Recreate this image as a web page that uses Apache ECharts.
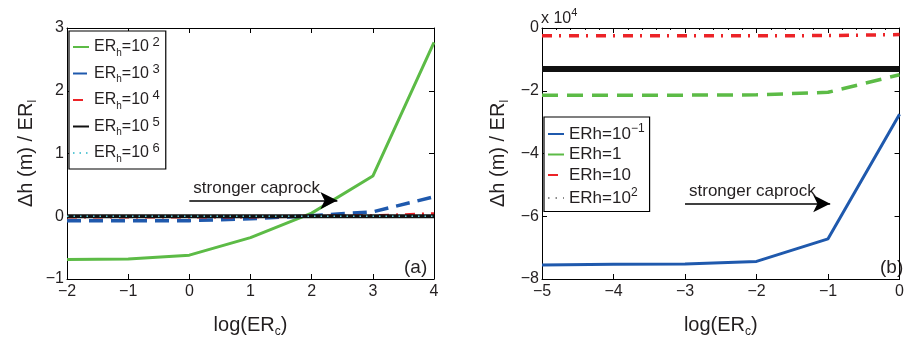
<!DOCTYPE html>
<html>
<head>
<meta charset="utf-8">
<script src="https://cdn.jsdelivr.net/npm/echarts@6/dist/echarts.min.js"></script>
<style>
	html, body { margin: 0; background: #fff; }
	#chart { width: 907px; height: 343px; }
</style>
</head>
<body>
<div id="chart"></div>
<script>
// panel (a): dh/ER_l against log(ER_c), one curve per ER_h
const logERcA = [-2, -1, 0, 1, 2, 3, 4]
const expA = ['2', '3', '4', '5', '6']
const dhA_e2 = [-0.69, -0.68, -0.62, -0.34, 0.05, 0.64, 2.77]
const dhA_e3 = [-0.07, -0.07, -0.07, -0.04, 0.01, 0.07, 0.31]
const dhA_e4 = [-0.01, -0.01, -0.01, -0.01, 0.0, 0.01, 0.04]
const dhA_e5 = [0, 0, 0, 0, 0, 0, 0]
const dhA_e6 = [0, 0, 0, 0, 0, 0, 0]

// panel (b): values in units of 1e4
const logERcB = [-5, -4, -3, -2, -1, 0]
const namesB = ['ERh=10^-1', 'ERh=1', 'ERh=10', 'ERh=10^2']
const dhB_em1 = [-7.55, -7.53, -7.52, -7.44, -6.72, -2.75]
const dhB_1 = [-2.14, -2.14, -2.14, -2.13, -2.05, -1.49]
const dhB_10 = [-0.25, -0.25, -0.25, -0.25, -0.24, -0.21]
const dhB_e2 = [-1.31, -1.31, -1.31, -1.31, -1.31, -1.31]

const GREEN = '#5cbb46'
const BLUE = '#1f59ad'
const RED = '#ec2327'
const CYAN = '#5ec8d6'
const TXT = '#231f20'
const FONT = 'Liberation Sans, Arial, sans-serif'

const zip = (xs, ys) => xs.map((x, i) => [x, ys[i]])
const minus = (v) => String(v).replace('-', '\u2212')

const chart = echarts.init(document.getElementById('chart'))

const line = { onZero: false, lineStyle: { color: '#000', width: 1 } }
const tick = { inside: true, length: 5, lineStyle: { color: '#000' } }

const baseX = (grid, min, max) => ({
	type: 'value', gridIndex: grid, min, max, interval: 1,
	axisLine: line, axisTick: tick,
	splitLine: { show: false },
	axisLabel: { color: TXT, fontSize: 16, fontFamily: FONT, margin: 5, formatter: minus },
})
const topX = (grid, min, max, minor) => ({
	type: 'value', gridIndex: grid, min, max, interval: 1, position: 'top',
	axisLine: line, axisTick: tick,
	minorTick: { show: minor, splitNumber: 5, length: 2, lineStyle: { color: '#000' } },
	splitLine: { show: false }, axisLabel: { show: false },
})
const baseY = (grid, min, max, interval, gap) => ({
	type: 'value', gridIndex: grid, min, max, interval,
	axisLine: { ...line, show: true }, axisTick: { ...tick, show: true },
	splitLine: { show: false },
	axisLabel: { color: TXT, fontSize: 16, fontFamily: FONT, margin: 3, formatter: minus },
	name: '{t|\u0394h (m) / ER}{s|l}',
	nameLocation: 'middle', nameRotate: 90, nameGap: gap,
	nameTextStyle: {
		rich: {
			t: { fontSize: 20, fontFamily: FONT, color: TXT, lineHeight: 26, verticalAlign: 'middle' },
			s: { fontSize: 12, fontFamily: FONT, color: TXT, lineHeight: 26, verticalAlign: 'bottom' },
		},
	},
})
const rightY = (grid, min, max, interval) => ({
	type: 'value', gridIndex: grid, min, max, interval, position: 'right',
	axisLine: { ...line, show: true }, axisTick: { ...tick, show: true },
	splitLine: { show: false }, axisLabel: { show: false },
})

const xName = {
	name: '{t|log(ER}{s|c}{t|)}',
	nameLocation: 'middle', nameGap: 33,
	nameTextStyle: {
		rich: {
			t: { fontSize: 20, fontFamily: FONT, color: TXT, lineHeight: 26 },
			s: { fontSize: 12, fontFamily: FONT, color: TXT, lineHeight: 26, verticalAlign: 'bottom' },
		},
	},
}

const legendRich = {
	t: { fontSize: 16, fontFamily: FONT, color: TXT, lineHeight: 22 },
	sub: { fontSize: 10, fontFamily: FONT, color: TXT, lineHeight: 22, verticalAlign: 'bottom' },
	sup: { fontSize: 13, fontFamily: FONT, color: TXT, lineHeight: 22, verticalAlign: 'top' },
	u: { fontSize: 17, fontFamily: FONT, color: TXT, lineHeight: 22 },
	usup: { fontSize: 12, fontFamily: FONT, color: TXT, lineHeight: 20, verticalAlign: 'top' },
}

const arrow = (x0, x1, y) => ({
	silent: true,
	symbol: ['none', 'arrow'],
	symbolSize: [13, 17],
	lineStyle: { color: '#000', width: 1.5, type: 'solid' },
	label: {
		show: true, position: 'insideStartTop', distance: 4,
		formatter: 'stronger caprock', color: TXT, fontSize: 17, fontFamily: FONT,
	},
	data: [[{ coord: [x0, y] }, { coord: [x1, y] }]],
})

const seriesA = [
	{ name: 'ER_h=10^2', data: zip(logERcA, dhA_e2), lineStyle: { color: GREEN, width: 3 }, markLine: arrow(0, 2.42, 0.25) },
	{ name: 'ER_h=10^3', data: zip(logERcA, dhA_e3), lineStyle: { color: BLUE, width: 3.5, type: [14, 8] } },
	{ name: 'ER_h=10^4', data: zip(logERcA, dhA_e4), lineStyle: { color: RED, width: 3, type: [10, 7, 2, 7] } },
	{ name: 'ER_h=10^5', data: zip(logERcA, dhA_e5), lineStyle: { color: '#111', width: 4 } },
	{ name: 'ER_h=10^6', data: zip(logERcA, dhA_e6), lineStyle: { color: CYAN, width: 1.5, type: [1.5, 5] } },
].map((s) => ({ ...s, type: 'line', xAxisIndex: 0, yAxisIndex: 0, symbol: 'none', itemStyle: { color: s.lineStyle.color } }))

const seriesB = [
	{ name: namesB[0], data: zip(logERcB, dhB_em1), lineStyle: { color: BLUE, width: 3 }, markLine: arrow(-3, -0.97, -5.6) },
	{ name: namesB[1], data: zip(logERcB, dhB_1), lineStyle: { color: GREEN, width: 3.5, type: [16, 9] } },
	{ name: namesB[2], data: zip(logERcB, dhB_10), lineStyle: { color: RED, width: 3.5, type: [10, 7, 2, 8] } },
	{ name: namesB[3], data: zip(logERcB, dhB_e2), lineStyle: { color: '#111', width: 6 } },
].map((s) => ({ ...s, type: 'line', xAxisIndex: 2, yAxisIndex: 2, symbol: 'none', itemStyle: { color: s.lineStyle.color } }))

const option = {
	animation: false,
	backgroundColor: '#fff',
	grid: [
		{ left: 67, top: 28, width: 367, height: 257 },
		{ left: 542, top: 28, width: 368, height: 258 },
	],
	xAxis: [
		{ ...baseX(0, -2, 4), ...xName },
		topX(0, -2, 4, false),
		{ ...baseX(1, -5, 0), ...xName },
		topX(1, -5, 0, true),
	],
	yAxis: [
		baseY(0, -1, 3, 1, 28),
		rightY(0, -1, 3, 1),
		baseY(1, -8, 0, 2, 31),
		rightY(1, -8, 0, 2),
	],
	legend: [
		{
			left: 69, top: 31, orient: 'vertical',
			itemWidth: 16, itemHeight: 14, itemGap: 4.5,
			padding: [5, 6, 5, 3],
			backgroundColor: '#fff', borderColor: '#000', borderWidth: 1.2,
			itemStyle: { opacity: 0 },
			data: seriesA.map((s) => s.name),
			formatter: (n) => `{t|ER}{sub|h}{t|=10}{sup| ${n.split('^')[1]}}`,
			textStyle: { rich: legendRich },
			selectedMode: false,
		},
		{
			left: 544, top: 117, orient: 'vertical',
			itemWidth: 16, itemHeight: 14, itemGap: 3.5,
			padding: [6, 5, 5, 3],
			backgroundColor: '#fff', borderColor: '#000', borderWidth: 1.2,
			itemStyle: { opacity: 0 },
			data: namesB.map((n, i) => i === 3
				? { name: n, lineStyle: { color: '#666', width: 1.5, type: [1.5, 6] } }
				: n),
			formatter: (n) => n.includes('^')
				? `{u|${n.split('^')[0]}}{usup|${minus(n.split('^')[1])}}`
				: `{u|${n}}`,
			textStyle: { rich: legendRich },
			selectedMode: false,
		},
	],
	graphic: [
		{ type: 'text', left: 404, top: 258, style: { text: '(a)', fontSize: 19, fontFamily: FONT, fill: TXT } },
		{ type: 'text', left: 880, top: 258, style: { text: '(b)', fontSize: 19, fontFamily: FONT, fill: TXT } },
		{
			type: 'text', left: 541, top: 7,
			style: {
				text: '{t|x 10}{s|4}',
				rich: {
					t: { fontSize: 16, fontFamily: FONT, fill: TXT, lineHeight: 20, verticalAlign: 'bottom' },
					s: { fontSize: 11, fontFamily: FONT, fill: TXT, lineHeight: 20, verticalAlign: 'top' },
				},
			},
		},
	],
	series: [...seriesA, ...seriesB],
}

chart.setOption(option)
</script>
</body>
</html>
